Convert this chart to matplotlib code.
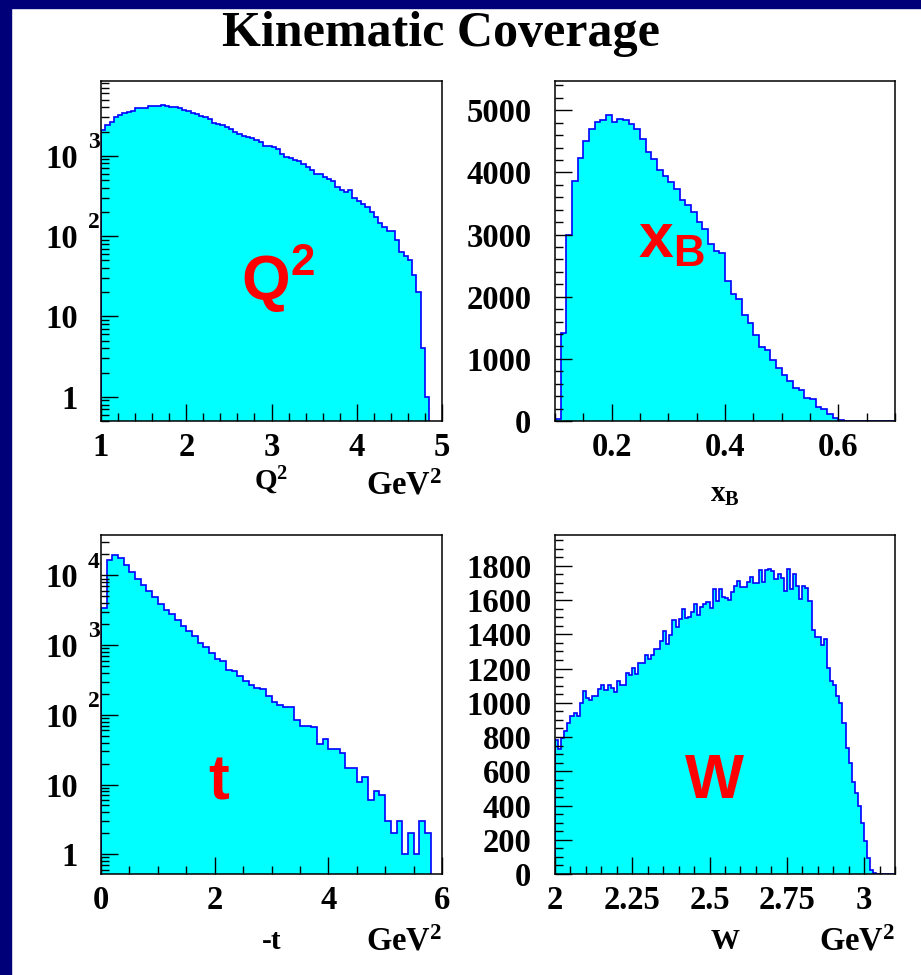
import numpy as np
import matplotlib.pyplot as plt
from matplotlib.patches import Rectangle
from matplotlib.ticker import MultipleLocator, LogLocator, FixedLocator, NullFormatter

plt.rcParams['mathtext.fontset'] = 'custom'
plt.rcParams['mathtext.rm'] = 'Liberation Serif:bold'
plt.rcParams['mathtext.bf'] = 'Liberation Serif:bold'
plt.rcParams['mathtext.it'] = 'Liberation Serif:bold'
plt.rcParams['mathtext.sf'] = 'Liberation Sans:bold'
plt.rcParams['mathtext.default'] = 'rm'

SERIF = 'Liberation Serif'
FILL = '#00ffff'
LINE = '#0000ff'

# Q^2 counts, 0.05 GeV^2 bins starting at 1.0
q2_counts = [2080, 2400, 2650, 3000, 3200, 3430, 3530, 3630, 3880, 3950,
             3950, 4140, 4140, 4200, 4300, 4100, 4060, 3980, 3880, 3700,
             3600, 3430, 3300, 3150, 3000, 2830, 2580, 2480, 2400, 2290,
             2120, 1990, 1860, 1770, 1720, 1640, 1570, 1500, 1320, 1320,
             1270, 1200, 1040, 970, 925, 880, 860, 790, 720, 660,
             600, 590, 540, 510, 490, 410, 375, 355, 375, 295,
             275, 250, 230, 200, 175, 145, 130, 114, 114, 90,
             64, 56, 50, 33, 20, 4, 1]

# x_B counts, 0.01 bins starting at 0.10
xb_counts = [40, 1420, 2990, 3860, 4230, 4510, 4690, 4810, 4850, 4925,
             4810, 4866, 4850, 4775, 4690, 4540, 4320, 4220, 4035, 3935,
             3850, 3725, 3553, 3473, 3365, 3205, 3092, 2846, 2738, 2696,
             2245, 2036, 1956, 1710, 1570, 1383, 1195, 1136, 981, 857,
             740, 648, 536, 498, 364, 348, 230, 188, 113, 54,
             16, 3, 1]

# -t counts, 0.1 GeV^2 bins starting at 0
t_counts = [3430, 16900, 19550, 17500, 14050, 11150, 8750, 7250, 5940, 4870,
            3950, 3240, 2750, 2280, 1870, 1580, 1340, 1075, 930, 772,
            634, 587, 445, 422, 365, 303, 265, 243, 235, 188,
            153, 137, 128, 128, 83, 68, 70, 67, 38, 45,
            32, 32, 28, 17, 17, 11, 13, 6, 8, 7,
            3, 2, 3, 1, 2, 1, 3, 2]

# W counts, 0.01 bins starting at 2.0
w_counts = [783, 733, 797, 836, 881, 920, 943, 920, 997, 1069,
            1026, 1017, 1040, 1040, 1081, 1106, 1075, 1106, 1085, 1065,
            1128, 1104, 1104, 1172, 1163, 1203, 1168, 1234, 1234, 1281,
            1254, 1281, 1314, 1314, 1363, 1421, 1343, 1398, 1483, 1440,
            1487, 1549, 1493, 1503, 1532, 1577, 1514, 1557, 1577, 1590,
            1551, 1664, 1594, 1662, 1619, 1613, 1600, 1645, 1683, 1712,
            1678, 1678, 1707, 1732, 1701, 1697, 1775, 1707, 1775, 1781,
            1771, 1722, 1755, 1726, 1654, 1783, 1664, 1750, 1683, 1605,
            1681, 1672, 1594, 1425, 1382, 1386, 1337, 1372, 1201, 1128,
            1104, 1042, 997, 881, 735, 651, 535, 476, 395, 297,
            191, 93, 25, 6]

W_PX, H_PX = 921, 975


def panel(left, top, right, bottom):
    return [left / W_PX, 1 - bottom / H_PX, (right - left) / W_PX, (bottom - top) / H_PX]


def draw_hist(ax, counts, start, width, stop, log):
    nbins = int(round((stop - start) / width))
    vals = np.zeros(nbins)
    vals[:len(counts)] = counts
    edges = start + width * np.arange(nbins + 1)
    base = 1e-3 if log else 0
    if log:
        vals = np.where(vals > 0, vals, base)
    ax.stairs(vals, edges, baseline=base, fill=True, color=FILL, lw=0)
    ax.stairs(vals, edges, baseline=base, color=LINE, lw=1.2)
    ax.set_xlim(start, stop)


def style(ax, ypad):
    for s in ax.spines.values():
        s.set_linewidth(1.1)
    ax.tick_params(which='both', direction='in', top=False, right=False, width=1.0)
    ax.tick_params(which='major', length=12.5)
    ax.tick_params(which='minor', length=6)
    ax.tick_params(axis='x', pad=8)
    ax.tick_params(axis='y', pad=ypad)
    for lab in ax.get_xticklabels() + ax.get_yticklabels():
        lab.set_fontfamily(SERIF)
        lab.set_fontweight('bold')
        lab.set_fontsize(23.5)


def log_labels(ax, decades):
    ax.yaxis.set_major_locator(FixedLocator([10.0 ** d for d in decades]))
    ax.yaxis.set_minor_locator(LogLocator(base=10, subs=np.arange(2, 10), numticks=20))
    ax.yaxis.set_minor_formatter(NullFormatter())
    ax.set_yticklabels(['1' if d == 0 else '10' for d in decades])
    for d in decades:
        if d >= 2:
            ax.annotate(str(d), xy=(0, 10.0 ** d), xycoords=('axes fraction', 'data'),
                        xytext=(-9.5, 9.5), textcoords='offset points',
                        ha='left', va='center', fontfamily=SERIF,
                        fontweight='bold', fontsize=17)


def axis_texts(ax, name, y=-0.175):
    ax.text(0.5, y, name, transform=ax.transAxes, ha='center', va='center',
            fontfamily=SERIF, fontweight='bold', fontsize=21)


def gev(ax, y=-0.19):
    ax.text(1.0, y, 'GeV$^{2}$', transform=ax.transAxes, ha='right', va='center',
            fontfamily=SERIF, fontweight='bold', fontsize=23.5)


fig = plt.figure(figsize=(9.21, 9.75), dpi=100)
fig.patches.append(Rectangle((0, 0), 11 / W_PX, 1, transform=fig.transFigure,
                             color='#000078', zorder=-1))
fig.patches.append(Rectangle((0, 1 - 8 / H_PX), 1, 8 / H_PX, transform=fig.transFigure,
                             color='#000078', zorder=-1))
fig.text(441 / W_PX, 1 - 34 / H_PX, 'Kinematic Coverage', ha='center', va='center',
         fontfamily=SERIF, fontweight='bold', fontsize=36)

# Q^2
ax1 = fig.add_axes(panel(101, 81, 442, 421))
draw_hist(ax1, q2_counts, 1.0, 0.05, 5.0, True)
ax1.set_yscale('log')
ax1.set_ylim(0.5, 8500)
ax1.xaxis.set_major_locator(MultipleLocator(1))
ax1.xaxis.set_minor_locator(MultipleLocator(0.2))
log_labels(ax1, [0, 1, 2, 3])
style(ax1, 16.5)
axis_texts(ax1, '$Q^{2}$')
gev(ax1)
ax1.text(0.41, 0.356, r'$\mathsf{Q^{2}}$', transform=ax1.transAxes, color='red',
         fontsize=45, ha='left', va='baseline')

# x_B
ax2 = fig.add_axes(panel(555, 81, 895, 421))
draw_hist(ax2, xb_counts, 0.10, 0.01, 0.70, False)
ax2.set_ylim(0, 5470)
ax2.xaxis.set_major_locator(FixedLocator([0.2, 0.4, 0.6]))
ax2.xaxis.set_minor_locator(MultipleLocator(0.05))
ax2.set_xticklabels(['0.2', '0.4', '0.6'])
ax2.set_yticks(range(0, 6000, 1000))
ax2.set_yticklabels([str(v) for v in range(0, 6000, 1000)])
ax2.yaxis.set_minor_locator(MultipleLocator(200))
style(ax2, 17)
axis_texts(ax2, '$x_{B}$', y=-0.215)
ax2.text(0.244, 0.482, r'$\mathsf{x_{B}}$', transform=ax2.transAxes, color='red',
         fontsize=45, ha='left', va='baseline')

# -t
ax3 = fig.add_axes(panel(101, 535, 442, 874))
draw_hist(ax3, t_counts, 0.0, 0.1, 6.0, True)
ax3.set_yscale('log')
ax3.set_ylim(0.52, 38000)
ax3.xaxis.set_major_locator(MultipleLocator(2))
ax3.xaxis.set_minor_locator(MultipleLocator(0.5))
log_labels(ax3, [0, 1, 2, 3, 4])
style(ax3, 16.5)
axis_texts(ax3, '-t', y=-0.2)
gev(ax3, y=-0.2)
ax3.text(0.314, 0.222, r'$\mathsf{t}$', transform=ax3.transAxes, color='red',
         fontsize=45, ha='left', va='baseline')

# W
ax4 = fig.add_axes(panel(555, 535, 895, 874))
draw_hist(ax4, w_counts, 2.0, 0.01, 3.1, False)
ax4.set_ylim(0, 1980)
ax4.set_xticks([2, 2.25, 2.5, 2.75, 3])
ax4.set_xticklabels(['2', '2.25', '2.5', '2.75', '3'])
ax4.xaxis.set_minor_locator(MultipleLocator(0.05))
ax4.set_yticks(range(0, 2000, 200))
ax4.set_yticklabels([str(v) for v in range(0, 2000, 200)])
ax4.yaxis.set_minor_locator(MultipleLocator(50))
style(ax4, 17)
axis_texts(ax4, 'W', y=-0.2)
gev(ax4, y=-0.2)
ax4.text(0.379, 0.225, r'$\mathsf{W}$', transform=ax4.transAxes, color='red',
         fontsize=45, ha='left', va='baseline')

fig.savefig('out.png', dpi=100)
